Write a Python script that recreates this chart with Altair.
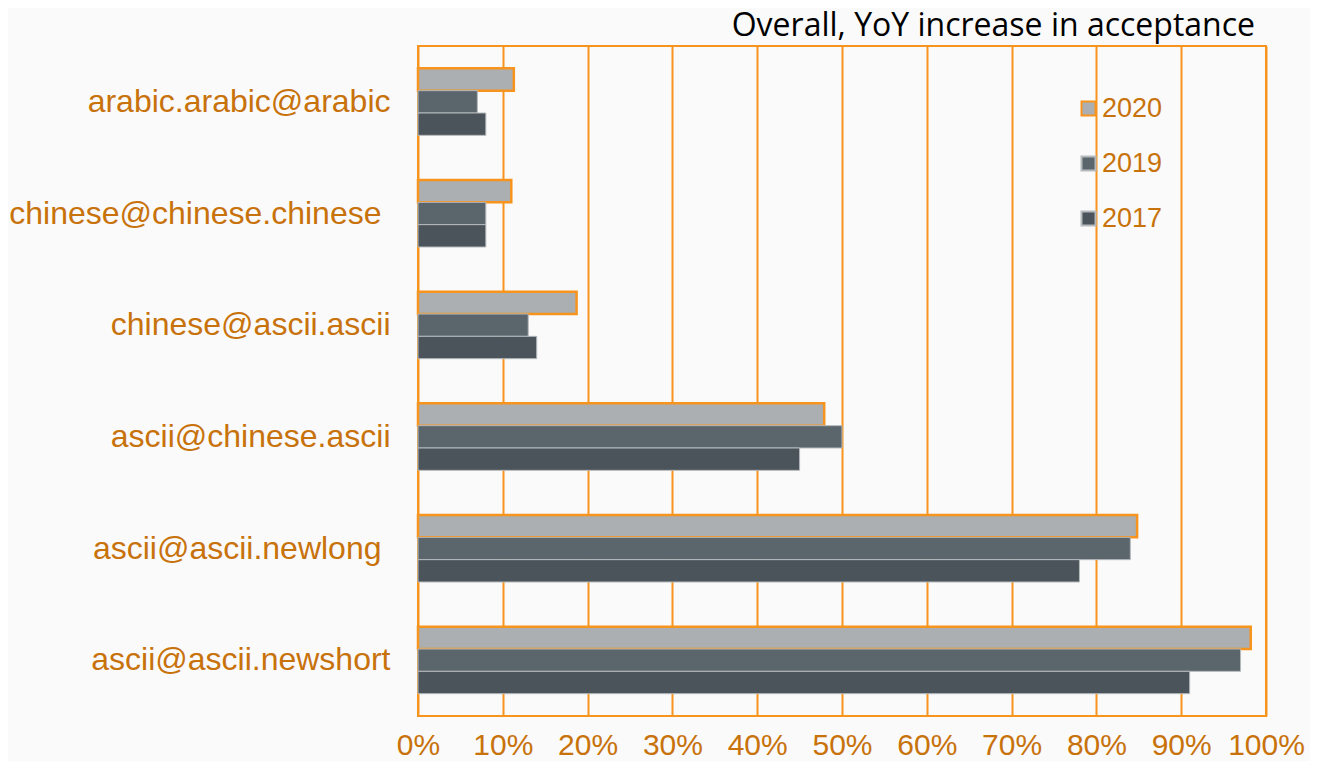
import altair as alt
import pandas as pd

categories = [
    "arabic.arabic@arabic",
    "chinese@chinese.chinese",
    "chinese@ascii.ascii",
    "ascii@chinese.ascii",
    "ascii@ascii.newlong",
    "ascii@ascii.newshort",
]
years = ["2020", "2019", "2017"]
values_2020 = [0.113, 0.11, 0.187, 0.479, 0.848, 0.982]
values_2019 = [0.07, 0.08, 0.13, 0.50, 0.84, 0.97]
values_2017 = [0.08, 0.08, 0.14, 0.45, 0.78, 0.91]
x_ticks = [i / 10 for i in range(11)]

rows = []
for yr, vals in zip(years, [values_2020, values_2019, values_2017]):
    for c, v in zip(categories, vals):
        rows.append({"category": c, "year": yr, "value": v})
df = pd.DataFrame(rows)

ORANGE = "#F7941D"
TEXT = "#C8720C"

pad_cond = {
    "condition": {
        "test": "datum.value == 'chinese@chinese.chinese' || datum.value == 'ascii@ascii.newlong'",
        "value": 37,
    },
    "value": 28,
}

chart = (
    alt.Chart(df)
    .mark_bar()
    .encode(
        x=alt.X(
            "value:Q",
            scale=alt.Scale(domain=[0, 1], nice=False),
            axis=alt.Axis(
                values=x_ticks,
                format=".0%",
                title=None,
                grid=True,
                gridColor=ORANGE,
                gridWidth=2,
                gridOpacity=1,
                ticks=False,
                domain=False,
                labelFont="Liberation Sans",
                labelFontSize=30,
                labelColor=TEXT,
                labelPadding=14,
                labelFlush=False,
            ),
        ),
        y=alt.Y(
            "category:N",
            sort=categories,
            scale=alt.Scale(paddingInner=0.4, paddingOuter=0.2),
            axis=alt.Axis(
                title=None,
                ticks=False,
                domain=False,
                grid=False,
                labelFont="Liberation Sans",
                labelFontSize=32,
                labelColor=TEXT,
                labelPadding=pad_cond,
                labelLimit=600,
            ),
        ),
        yOffset=alt.YOffset("year:N", sort=years),
        color=alt.Color(
            "year:N",
            sort=years,
            scale=alt.Scale(domain=years, range=["#ABAFB2", "#5B666C", "#4B545A"]),
            legend=alt.Legend(title=None),
        ),
        stroke=alt.Stroke(
            "year:N",
            sort=years,
            scale=alt.Scale(domain=years, range=[ORANGE, "#B5BABD", "#B5BABD"]),
            legend=alt.Legend(title=None),
        ),
        strokeWidth=alt.condition(
            alt.datum.year == "2020", alt.value(2.5), alt.value(1)
        ),
    )
    .properties(
        width=848,
        height=670,
        autosize=alt.AutoSizeParams(type="none"),
        padding={"left": 410, "top": 38, "right": 44, "bottom": 45},
        background="#FAFAFA",
        title=alt.TitleParams(
            "Overall, YoY increase in acceptance",
            anchor="end",
            frame="group",
            font="Open Sans",
            fontSize=32,
            fontWeight="normal",
            color="black",
            offset=3,
            dx=-11,
        ),
    )
    .configure_view(stroke=ORANGE, strokeWidth=2)
    .configure_legend(
        orient="none",
        legendX=657,
        legendY=49,
        padding=0,
        symbolType="square",
        symbolSize=196,
        symbolStrokeWidth=2,
        labelFont="Liberation Sans",
        labelFontSize=27,
        labelColor=TEXT,
        labelOffset=0,
        rowPadding=27,
    )
)

chart.save("out.html", embed_options={"renderer": "svg", "actions": False})
